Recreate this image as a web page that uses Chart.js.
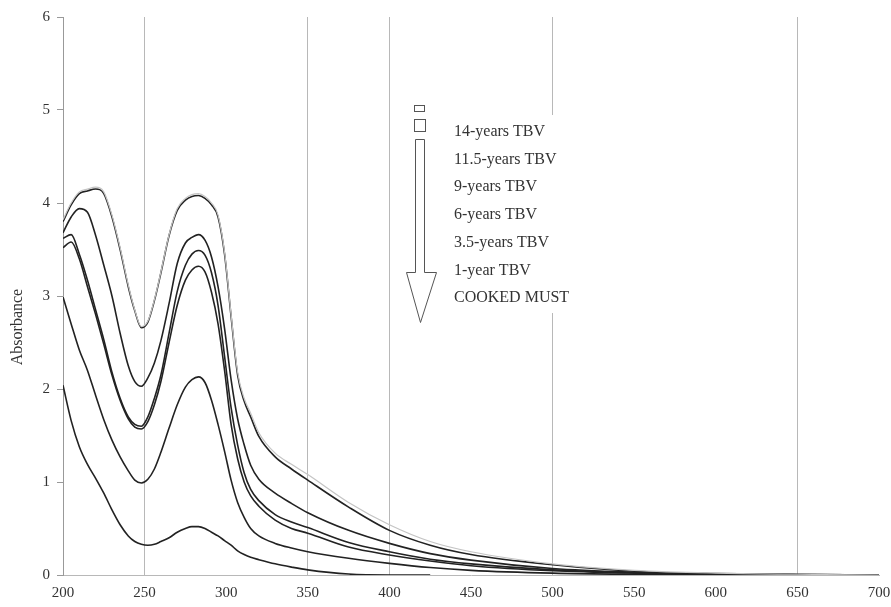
<!DOCTYPE html>
<html>
<head>
<meta charset="utf-8">
<script src="https://cdn.jsdelivr.net/npm/chart.js@4.4.1/dist/chart.umd.min.js"></script>
<style>
  html, body { margin: 0; padding: 0; background: #fff; }
  #wrap { width: 891px; height: 607px; }
</style>
</head>
<body>
<div id="wrap"><canvas id="absChart"></canvas></div>
<script>
// wavelength (nm)
var wl = [200,205,210,215,220,225,230,235,240,244,248,252,256,260,265,270,275,279,283,287,291,295,299,303,307,311,315,320,330,340,350,375,400,425,450,500,550,600,650,700];

var tbv14  = [3.82,4.00,4.12,4.15,4.17,4.12,3.87,3.52,3.12,2.85,2.67,2.73,2.96,3.26,3.66,3.94,4.05,4.09,4.10,4.07,4.00,3.87,3.47,2.80,2.18,1.90,1.74,1.53,1.31,1.19,1.08,0.78,0.54,0.36,0.25,0.12,0.05,0.02,0.008,0];
var tbv115 = [3.80,3.98,4.10,4.13,4.15,4.10,3.85,3.50,3.10,2.84,2.66,2.72,2.95,3.25,3.65,3.92,4.03,4.07,4.08,4.05,3.98,3.85,3.45,2.78,2.15,1.87,1.70,1.49,1.27,1.14,1.02,0.73,0.48,0.32,0.22,0.11,0.04,0.015,0.005,0];
var tbv9   = [3.68,3.85,3.94,3.90,3.65,3.33,3.00,2.60,2.25,2.08,2.03,2.12,2.28,2.52,2.92,3.35,3.57,3.63,3.66,3.60,3.42,3.10,2.65,2.10,1.68,1.40,1.18,1.03,0.88,0.77,0.67,0.48,0.34,0.23,0.16,0.07,0.03,0.012,0.005,0];
var tbv6   = [3.62,3.66,3.45,3.17,2.85,2.53,2.18,1.90,1.70,1.62,1.60,1.70,1.90,2.15,2.60,3.05,3.33,3.45,3.49,3.44,3.25,2.90,2.35,1.80,1.40,1.10,0.92,0.80,0.65,0.57,0.51,0.35,0.25,0.17,0.12,0.055,0.025,0.01,0.004,0];
var tbv35  = [3.52,3.58,3.40,3.10,2.80,2.48,2.15,1.88,1.68,1.59,1.57,1.65,1.83,2.08,2.50,2.90,3.17,3.28,3.32,3.26,3.04,2.70,2.20,1.62,1.25,1.00,0.85,0.74,0.59,0.50,0.45,0.30,0.215,0.15,0.10,0.045,0.02,0.008,0.003,0];
var tbv1   = [2.99,2.70,2.42,2.20,1.93,1.67,1.45,1.27,1.12,1.02,0.99,1.03,1.14,1.32,1.58,1.83,2.02,2.10,2.13,2.07,1.88,1.62,1.33,1.02,0.78,0.62,0.50,0.42,0.34,0.29,0.25,0.18,0.125,0.08,0.05,0.02,0.008,0.003,0.001,0];
var must   = [2.04,1.66,1.38,1.19,1.04,0.88,0.70,0.54,0.42,0.36,0.33,0.32,0.33,0.36,0.40,0.46,0.50,0.52,0.52,0.50,0.46,0.42,0.37,0.32,0.26,0.22,0.19,0.165,0.12,0.085,0.055,0.01,0,0,null,null,null,null,null,null];

var legendLabels = ['14-years TBV','11.5-years TBV','9-years TBV','6-years TBV','3.5-years TBV','1-year TBV','COOKED MUST'];
var yTitle = 'Absorbance';
var xGridAt = [250, 350, 400, 500, 650];

function pts(vals) {
  var out = [];
  for (var i = 0; i < wl.length; i++) out.push({x: wl[i], y: vals[i]});
  return out;
}

function line(label, vals, color, width) {
  return {
    label: label,
    data: pts(vals),
    borderColor: color,
    borderWidth: width,
    pointRadius: 0,
    fill: false,
    cubicInterpolationMode: 'monotone',
    spanGaps: false
  };
}

var serif = '"Liberation Serif", "DejaVu Serif", serif';

// arrow + labels drawn over a white box like the original
var arrowLegend = {
  id: 'arrowLegend',
  beforeDatasetsDraw: function(chart) {
    var c = chart.ctx;
    c.save();
    c.fillStyle = '#fff';
    c.fillRect(398, 115, 180, 198);
    c.restore();
  },
  afterDraw: function(chart) {
    var c = chart.ctx;
    c.save();
    c.strokeStyle = '#555';
    c.lineWidth = 1;
    c.strokeRect(414.5, 105.5, 10, 6);
    c.strokeRect(414.5, 119.5, 11, 12);
    c.beginPath();
    c.moveTo(415.5, 139.5);
    c.lineTo(424.5, 139.5);
    c.lineTo(424.5, 272.5);
    c.lineTo(436.5, 272.5);
    c.lineTo(420.5, 322.5);
    c.lineTo(406.5, 272.5);
    c.lineTo(415.5, 272.5);
    c.closePath();
    c.stroke();

    c.fillStyle = '#333';
    c.font = '16px ' + serif;
    c.textBaseline = 'middle';
    c.textAlign = 'left';
    var ys = [132, 160, 187, 215, 243, 271, 298];
    for (var i = 0; i < legendLabels.length; i++) {
      c.fillText(legendLabels[i], 454, ys[i]);
    }

    // axis title sits a bit below the middle in the original
    c.translate(18, 327);
    c.rotate(-Math.PI / 2);
    c.textAlign = 'center';
    c.fillText(yTitle, 0, 0);
    c.restore();
  }
};

var ctx = document.getElementById('absChart').getContext('2d');
var myChart = new Chart(ctx, {
  type: 'line',
  data: {
    datasets: [
      line(legendLabels[0], tbv14, '#c4c4c4', 1.2),
      line(legendLabels[1], tbv115, '#222', 1.6),
      line(legendLabels[2], tbv9, '#222', 1.6),
      line(legendLabels[3], tbv6, '#222', 1.6),
      line(legendLabels[4], tbv35, '#222', 1.6),
      line(legendLabels[5], tbv1, '#222', 1.6),
      line(legendLabels[6], must, '#222', 1.6)
    ]
  },
  options: {
    responsive: true,
    maintainAspectRatio: false,
    animation: false,
    layout: { padding: { top: 17, right: 12, left: 0, bottom: 0 } },
    plugins: {
      legend: { display: false },
      tooltip: { enabled: false }
    },
    scales: {
      x: {
        type: 'linear',
        min: 200,
        max: 700,
        ticks: {
          stepSize: 50,
          color: '#333',
          padding: 9,
          font: { family: serif, size: 15 }
        },
        grid: {
          drawTicks: false,
          lineWidth: 1,
          color: function(c) {
            return xGridAt.indexOf(c.tick && c.tick.value) >= 0 ? '#b8b8b8' : 'rgba(0,0,0,0)';
          }
        },
        border: { color: '#b8b8b8', width: 1 },
        afterFit: function(s) {
          s.height = 32;
          s.paddingLeft = 0;
          s.paddingRight = 0;
        }
      },
      y: {
        min: 0,
        max: 6,
        ticks: {
          stepSize: 1,
          color: '#333',
          padding: 7,
          font: { family: serif, size: 15 }
        },
        grid: {
          drawOnChartArea: false,
          drawTicks: true,
          tickLength: 6,
          color: '#999'
        },
        border: { color: '#999', width: 1 },
        afterFit: function(s) { s.width = 63; }
      }
    }
  },
  plugins: [arrowLegend]
});
</script>
</body>
</html>
